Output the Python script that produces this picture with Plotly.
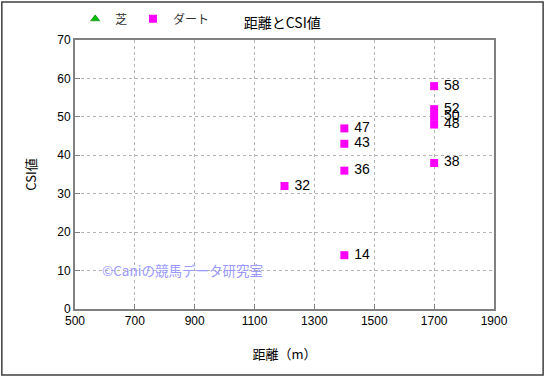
import plotly.graph_objects as go

# Data
turf_distance = [None]
turf_csi = [None]
dirt_distance = [1700, 1700, 1700, 1700, 1700, 1400, 1400, 1400, 1400, 1200]
dirt_csi = [58, 52, 50, 48, 38, 47, 43, 36, 14, 32]

x_ticks = [500, 700, 900, 1100, 1300, 1500, 1700, 1900]
y_ticks = [0, 10, 20, 30, 40, 50, 60, 70]

FONT = "Noto Sans CJK JP, Liberation Sans, sans-serif"

fig = go.Figure()
fig.add_trace(go.Scatter(
    x=turf_distance, y=turf_csi, name="芝", mode="markers", legend="legend",
    marker=dict(symbol="triangle-up", color="#00C000", size=8,
                line=dict(color="#006000", width=0.5)),
))
fig.add_trace(go.Scatter(
    x=dirt_distance, y=dirt_csi, name="ダート", mode="markers+text", legend="legend2",
    marker=dict(symbol="square", color="#FF00FF", size=8),
    text=[" " + str(v) for v in dirt_csi], textposition="middle right",
    textfont=dict(size=14, color="#000000", family="Liberation Sans, Arial, sans-serif"),
))

legend_common = dict(orientation="h", xref="container", yref="container",
                     xanchor="left", y=0.95, yanchor="middle",
                     font=dict(size=12, family=FONT, color="#333333"),
                     bgcolor="rgba(0,0,0,0)")

fig.update_layout(
    width=545, height=377,
    margin=dict(l=75, r=51, t=40, b=68, autoexpand=False),
    paper_bgcolor="white", plot_bgcolor="white",
    font=dict(family=FONT, size=12, color="#000000"),
    title=dict(text="距離とCSI値", x=0.518, xanchor="center", y=0.94, yanchor="middle",
               font=dict(size=14, family=FONT, color="#000000")),
    showlegend=True,
    legend=dict(x=0.138, **legend_common),
    legend2=dict(x=0.244, **legend_common),
    xaxis=dict(range=[500, 1900], tickvals=x_ticks, ticktext=[str(t) for t in x_ticks],
               showgrid=True, gridcolor="#b4b4b4", griddash="dot", gridwidth=1,
               showline=True, linecolor="#808080", linewidth=2, mirror=True,
               ticks="inside", ticklen=5, tickcolor="#808080", zeroline=False,
               tickfont=dict(size=12, family="Liberation Sans, Arial, sans-serif"),
               title=dict(text="距離（m）", font=dict(size=13, family=FONT), standoff=22)),
    yaxis=dict(range=[0, 70], tickvals=y_ticks, ticktext=[str(t) for t in y_ticks],
               showgrid=True, gridcolor="#b4b4b4", griddash="dot", gridwidth=1,
               showline=True, linecolor="#808080", linewidth=2, mirror=True,
               ticks="inside", ticklen=5, tickcolor="#808080", zeroline=False,
               tickfont=dict(size=12, family="Liberation Sans, Arial, sans-serif"),
               title=dict(text="CSI値", font=dict(size=13, family=FONT), standoff=18)),
)

# outer frame
fig.add_shape(type="rect", xref="paper", yref="paper",
              x0=-73/418, x1=(542-75)/418, y0=-(375-309)/269, y1=(309-2)/269,
              line=dict(color="#404040", width=1.5), fillcolor="rgba(0,0,0,0)", layer="below")

# watermark
fig.add_annotation(text="©Caniの競馬データ研究室", xref="paper", yref="paper",
                   x=(100-75)/418, y=(309-270)/269, xanchor="left", yanchor="middle",
                   showarrow=False, font=dict(size=13.5, color="#9999FF", family=FONT))

fig.write_html("out.html", config={"displayModeBar": False},
               post_script="document.body.style.margin='0';")
